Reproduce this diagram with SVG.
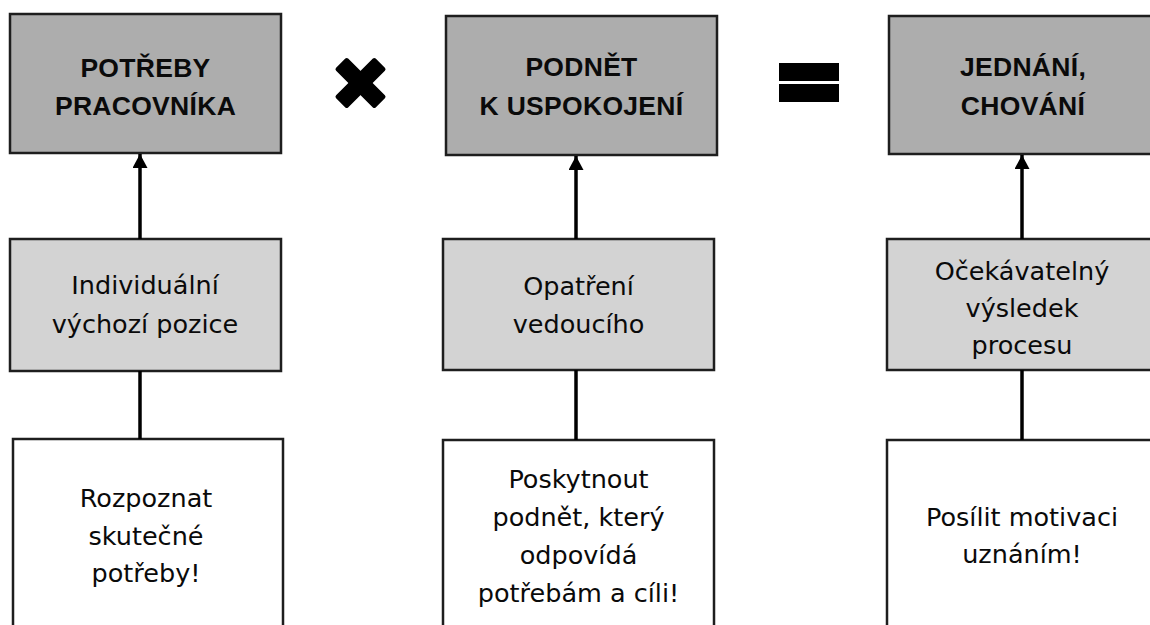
<svg xmlns="http://www.w3.org/2000/svg" width="1150" height="625" viewBox="0 0 1150 625">
<style>
.top{fill:#adadad;stroke:#1e1e1e;stroke-width:2.5}
.mid{fill:#d3d3d3;stroke:#1e1e1e;stroke-width:2.5}
.bot{fill:#ffffff;stroke:#1e1e1e;stroke-width:2.5}
.tb{font-family:"Liberation Sans",Arial,sans-serif;font-weight:bold;font-size:26.5px;fill:#0a0a0a;text-anchor:middle;letter-spacing:0.3px}
.tr{font-family:"DejaVu Sans",sans-serif;font-size:25.5px;fill:#0a0a0a;text-anchor:middle}
.conn{stroke:#000;stroke-width:3.5;fill:none}
.sym{fill:#000}
</style>
<defs>
<marker id="ah" markerWidth="16" markerHeight="16" refX="14" refY="7.5" orient="auto" markerUnits="userSpaceOnUse">
<path d="M0,0 L14,7.5 L0,15 Z" fill="#000"/>
</marker>
</defs>
<rect width="1150" height="625" fill="#fff"/>

<g id="n1-top"><rect class="top" x="10" y="14" width="271" height="139"/>
<text class="tb" x="145.5" y="77">POTŘEBY</text><text class="tb" x="145.5" y="115">PRACOVNÍKA</text></g>
<g id="n1-mid"><rect class="mid" x="10" y="239" width="271" height="132"/>
<text class="tr" x="145" y="294">Individuální</text><text class="tr" x="145" y="333">výchozí pozice</text></g>
<g id="n1-bot"><rect class="bot" x="13" y="439" width="270" height="210"/>
<text class="tr" x="146" y="507">Rozpoznat</text><text class="tr" x="146" y="545">skutečné</text><text class="tr" x="146" y="582">potřeby!</text></g>

<g id="n2-top"><rect class="top" x="446" y="16" width="271" height="139"/>
<text class="tb" x="581.5" y="76">PODNĚT</text><text class="tb" x="581.5" y="115">K USPOKOJENÍ</text></g>
<g id="n2-mid"><rect class="mid" x="443" y="239" width="271" height="131"/>
<text class="tr" x="578.5" y="295">Opatření</text><text class="tr" x="578.5" y="333">vedoucího</text></g>
<g id="n2-bot"><rect class="bot" x="443" y="440" width="271" height="210"/>
<text class="tr" x="578.5" y="488">Poskytnout</text><text class="tr" x="578.5" y="526">podnět, který</text><text class="tr" x="578.5" y="564">odpovídá</text><text class="tr" x="578.5" y="602">potřebám a cíli!</text></g>

<g id="n3-top"><rect class="top" x="889" y="16" width="271" height="138"/>
<text class="tb" x="1023" y="76">JEDNÁNÍ,</text><text class="tb" x="1023" y="115">CHOVÁNÍ</text></g>
<g id="n3-mid"><rect class="mid" x="887" y="239" width="273" height="131"/>
<text class="tr" x="1022" y="280">Očekávatelný</text><text class="tr" x="1022" y="317">výsledek</text><text class="tr" x="1022" y="354">procesu</text></g>
<g id="n3-bot"><rect class="bot" x="887" y="440" width="273" height="210"/>
<text class="tr" x="1022" y="526">Posílit motivaci</text><text class="tr" x="1022" y="563">uznáním!</text></g>

<g id="op-times"><rect class="sym" x="332.5" y="74.5" width="56" height="17" rx="2" transform="rotate(45 360.5 83)"/><rect class="sym" x="332.5" y="74.5" width="56" height="17" rx="2" transform="rotate(-45 360.5 83)"/></g>
<g id="op-equals"><rect class="sym" x="779" y="63" width="60" height="18"/><rect class="sym" x="779" y="84" width="60" height="18"/></g>

<g id="connectors">
<line class="conn" x1="140" y1="239" x2="140" y2="154" marker-end="url(#ah)"/>
<line class="conn" x1="576" y1="239" x2="576" y2="156" marker-end="url(#ah)"/>
<line class="conn" x1="1022" y1="239" x2="1022" y2="155" marker-end="url(#ah)"/>
<line class="conn" x1="140" y1="371" x2="140" y2="439"/>
<line class="conn" x1="576" y1="370" x2="576" y2="440"/>
<line class="conn" x1="1022" y1="370" x2="1022" y2="440"/>
</g>
</svg>
